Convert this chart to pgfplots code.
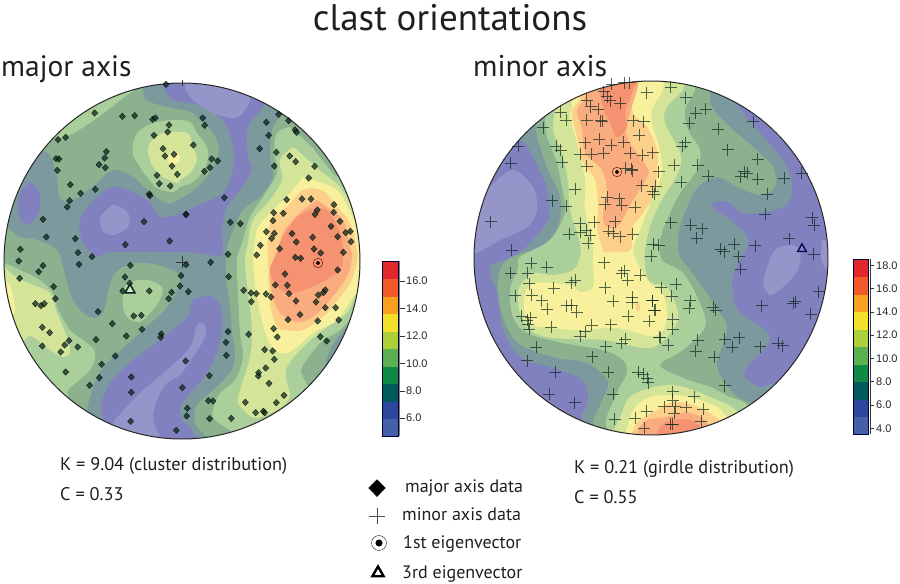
\documentclass[border=0pt]{standalone}
\usepackage{fontspec}
\setmainfont{PT Sans}
\newfontfamily\cbf{Liberation Sans}
\usepackage{pgfplots}
\pgfplotsset{compat=1.18}
\definecolor{Lz}{HTML}{9595CA}
\definecolor{La}{HTML}{8181BF}
\definecolor{Lb}{HTML}{7C9A9E}
\definecolor{Lc}{HTML}{8BB18F}
\definecolor{Ld}{HTML}{ABCF9B}
\definecolor{Le}{HTML}{D4E499}
\definecolor{Lf}{HTML}{F8F09C}
\definecolor{Lg}{HTML}{FCCF8A}
\definecolor{Lh}{HTML}{F9AC80}
\definecolor{Li}{HTML}{F59272}
\definecolor{Ca}{HTML}{E1262C}
\definecolor{Cb}{HTML}{F15A29}
\definecolor{Cc}{HTML}{F8A01F}
\definecolor{Cd}{HTML}{F2E02A}
\definecolor{Ce}{HTML}{ADCF3A}
\definecolor{Cf}{HTML}{5BB04F}
\definecolor{Cg}{HTML}{0E8A45}
\definecolor{Ch}{HTML}{005A5B}
\definecolor{Ci}{HTML}{2E479E}
\definecolor{Cj}{HTML}{4560A8}
\definecolor{Mk}{HTML}{06241A}
\newcommand\reg[2]{\addplot[fill=#1,draw=none,smooth,tension=0.55,forget plot] coordinates {#2} -- cycle;}
\newcommand\cbox[5]{\addplot[fill=#1,draw=none,forget plot] coordinates {(#2,#3)(#4,#3)(#4,#5)(#2,#5)} -- cycle;}
\pgfplotsset{
 maj/.style={only marks,forget plot,mark=diamond*,mark size=3.3pt,mark options={xscale=1.25,fill=Mk,draw=none,opacity=.72}},
 mnr/.style={only marks,forget plot,mark=+,mark size=6pt,mark options={draw=Mk,line width=.8pt,opacity=.68}},
}
\begin{document}
\begin{tikzpicture}
\begin{axis}[at={(0,0)},anchor=south west,scale only axis,width=900bp,height=584bp,
 xmin=0,xmax=900,ymin=0,ymax=584,y dir=reverse,axis lines=none,clip=false]
% ---------- left net
\fill[Lb] (axis cs:182,261) circle [radius=178bp];
\reg{Lc}{(143,75)(143,88)(146,100)(167,107)(190,112)(200,120)(213,133)(219,150)(213,167)(200,185)(180,199)(167,203)(150,192)(133,177)(113,170)(97,183)(73,200)(60,198)(57,177)(50,155)(40,150)(30,140)(70,90)}
\reg{Lc}{(0,225)(7,227)(20,237)(37,240)(57,250)(63,267)(70,293)(80,310)(93,318)(103,313)(108,293)(115,273)(133,263)(157,265)(177,273)(180,283)(167,307)(143,330)(132,340)(110,360)(97,377)(87,407)(85,415)(40,400)(0,320)}
\reg{Lc}{(272,95)(280,113)(272,130)(270,157)(273,177)(260,197)(243,210)(233,230)(227,250)(226,277)(230,307)(232,333)(235,357)(230,373)(210,393)(197,405)(195,423)(207,437)(215,445)(300,420)(370,300)(370,200)(300,100)}
\reg{Lb}{(323,372)(330,350)(340,335)(355,320)(365,340)(335,385)}
\reg{La}{(163,78)(268,90)(263,107)(248,127)(248,157)(252,170)(240,190)(227,207)(222,230)(222,255)(205,254)(180,252)(113,252)(97,256)(83,243)(80,220)(97,197)(117,187)(147,200)(160,217)(180,213)(203,203)(223,193)(233,170)(233,147)(223,120)(203,107)(190,103)(173,100)(163,87)}
\reg{La}{(30,182)(40,193)(38,213)(27,225)(18,213)(20,193)(30,182)}
\reg{La}{(100,407)(110,383)(133,360)(160,340)(187,317)(193,300)(213,297)(222,313)(220,343)(207,373)(193,390)(187,397)(180,407)(182,420)(190,428)(197,445)(150,450)(105,425)}
\reg{Lz}{(100,217)(113,205)(128,213)(128,227)(113,235)(102,230)(100,217)}
\reg{Lz}{(190,78)(185,87)(193,100)(213,113)(233,118)(243,113)(250,100)(250,85)}
\reg{Lz}{(113,422)(140,393)(167,370)(190,347)(197,325)(205,325)(205,337)(193,357)(180,375)(167,383)(157,400)(153,420)(160,437)(160,450)(115,440)}
\reg{Ld}{(50,140)(70,135)(97,118)(123,98)(135,88)(130,70)(40,120)}
\reg{Ld}{(133,143)(138,132)(153,123)(173,120)(190,122)(197,133)(208,150)(205,168)(193,182)(180,187)(173,192)(157,188)(147,177)(140,167)(133,155)(133,143)}
\reg{Le}{(148,153)(150,143)(163,133)(187,133)(193,147)(197,160)(190,173)(180,180)(177,183)(163,177)(153,167)(148,153)}
\reg{Lf}{(168,155)(177,153)(180,160)(173,165)(169,162)(168,155)}
\reg{Ld}{(123,290)(130,282)(147,280)(162,287)(160,300)(150,313)(140,322)(128,318)(123,307)(123,290)}
\reg{Ld}{(0,262)(5,263)(20,270)(40,280)(53,293)(57,307)(70,330)(83,340)(95,352)(90,370)(68,390)(68,400)(40,400)(0,320)}
\reg{Le}{(0,268)(5,268)(17,278)(33,285)(50,293)(57,313)(67,337)(70,353)(63,357)(50,350)(40,342)(30,336)(22,342)(10,340)(0,320)}
\reg{Lf}{(5,283)(10,285)(15,307)(13,315)(0,315)(0,285)}
\reg{Ld}{(290,127)(277,133)(274,153)(277,173)(263,197)(250,217)(243,240)(237,260)(238,293)(240,333)(243,357)(235,380)(220,393)(213,410)(215,420)(232,432)(240,445)(300,400)(308,388)(303,377)(302,367)(320,343)(340,330)(355,313)(370,290)(365,250)(350,170)(337,177)(313,148)}
\reg{Le}{(297,150)(292,148)(280,160)(282,180)(270,200)(253,220)(248,243)(245,260)(248,293)(252,327)(250,357)(238,398)(242,408)(255,418)(277,410)(290,397)(287,383)(287,367)(303,347)(323,330)(347,313)(358,290)(372,280)(372,230)(358,230)(353,210)(340,187)(323,173)}
\reg{Lf}{(303,177)(290,193)(273,210)(258,227)(255,243)(253,263)(258,303)(268,340)(280,353)(293,350)(313,333)(337,320)(357,293)(375,290)(375,225)(357,223)(340,193)(323,183)}
\reg{Lg}{(310,188)(300,192)(287,207)(272,218)(268,237)(268,260)(270,303)(277,327)(287,330)(303,330)(327,313)(350,283)(357,260)(357,250)(350,223)(337,207)(325,192)(310,188)}
\reg{Lh}{(317,200)(303,210)(293,220)(283,233)(278,250)(270,270)(273,297)(280,313)(297,322)(313,317)(330,300)(347,277)(352,257)(350,247)(343,220)(327,207)(317,200)}
\reg{Li}{(310,210)(297,217)(287,230)(280,243)(275,257)(270,270)(277,287)(293,293)(320,283)(340,270)(343,253)(340,233)(327,210)(310,210)}
\draw[white,line width=30bp] (axis cs:182,261) circle [radius=193bp];
\draw[black!85,line width=1pt] (axis cs:182,261) circle [radius=178bp];
\addplot[black!80,line width=.6pt,forget plot] coordinates {(182,80)(182,86)};
\addplot[black!80,line width=.6pt,forget plot] coordinates {(176,262)(188,262)};
\addplot[black!80,line width=.6pt,forget plot] coordinates {(182,256)(182,268)};
% ---------- right net
\fill[La] (axis cs:651,258) circle [radius=177bp];
\reg{Lz}{(477,210)(490,187)(513,170)(533,187)(537,210)(527,227)(500,240)(473,253)(465,230)}
\reg{Lz}{(822,240)(822,262)(834,275)(834,240)}
\reg{Lb}{(737,95)(737,105)(760,133)(783,160)(792,183)(788,203)(767,212)(743,213)(728,202)(715,202)(713,208)(730,220)(748,240)(735,270)(732,283)(738,310)(770,337)(747,367)(745,377)(760,387)(777,383)(790,395)(700,440)(600,440)(582,418)(587,405)(588,393)(580,378)(550,367)(520,357)(503,330)(497,293)(490,267)(513,257)(530,243)(548,220)(548,193)(538,167)(525,143)(518,140)(525,125)(650,70)}
\reg{Lz}{(763,285)(767,267)(775,250)(790,245)(800,250)(798,270)(783,287)(770,295)(763,285)}
\reg{Lc}{(535,115)(535,122)(538,140)(548,170)(560,197)(558,227)(540,247)(507,260)(498,283)(503,317)(518,343)(553,357)(587,363)(605,377)(608,387)(600,405)(596,428)(650,445)(750,415)(753,405)(737,397)(723,380)(717,363)(727,330)(720,313)(703,288)(690,270)(680,257)(678,240)(682,220)(697,188)(717,177)(737,187)(760,195)(775,187)(773,167)(753,147)(730,127)(712,107)(710,92)(705,75)}
\reg{Ld}{(545,105)(545,115)(547,137)(557,163)(563,193)(565,213)(550,240)(520,257)(518,268)(510,290)(513,317)(527,333)(563,343)(603,350)(623,360)(627,373)(617,393)(607,428)(650,445)(745,415)(745,403)(730,397)(710,387)(683,378)(660,365)(683,350)(705,327)(700,303)(683,273)(662,260)(660,240)(667,220)(680,193)(697,170)(700,150)(688,130)(685,110)(695,90)(695,75)}
\reg{Le}{(555,100)(555,110)(553,130)(563,157)(568,183)(570,210)(580,243)(580,257)(573,270)(553,275)(533,273)(522,283)(518,293)(520,313)(530,330)(553,338)(603,340)(650,348)(673,330)(678,313)(667,287)(650,282)(645,265)(645,250)(650,227)(660,203)(678,173)(680,153)(665,123)(667,107)(683,90)(683,75)}
\reg{Le}{(610,440)(617,423)(620,417)(630,397)(650,388)(673,385)(693,390)(717,400)(733,408)(740,425)(650,450)}
\reg{Lf}{(572,75)(572,107)(570,117)(578,147)(585,180)(585,210)(592,240)(593,263)(593,287)(580,292)(570,285)(537,283)(525,293)(527,322)(550,328)(580,330)(617,328)(650,336)(663,330)(667,313)(662,292)(650,283)(640,268)(633,250)(640,230)(653,197)(662,173)(660,150)(652,123)(653,107)(663,90)(663,75)}
\reg{Lf}{(622,445)(627,428)(633,410)(647,398)(670,395)(693,398)(717,407)(725,415)(730,430)(650,450)}
\reg{Lg}{(580,75)(580,98)(572,112)(577,137)(582,160)(595,180)(598,207)(597,227)(602,247)(604,252)(610,252)(630,250)(633,227)(643,213)(655,193)(657,170)(657,150)(647,127)(633,113)(633,93)(640,80)(640,70)}
\reg{Lg}{(636,303)(639,303)(640,310)(636,310)(636,303)}
\reg{Lg}{(630,445)(633,430)(640,420)(657,410)(673,402)(693,405)(713,415)(718,425)(680,450)}
\reg{Lh}{(585,75)(585,98)(577,110)(582,130)(585,153)(602,170)(607,193)(603,213)(605,225)(617,227)(633,200)(647,177)(647,167)(627,137)(630,113)(637,90)(640,70)}
\reg{Lh}{(636,445)(638,430)(647,420)(660,418)(667,417)(683,413)(697,415)(707,423)(710,435)(680,450)}
\reg{Li}{(600,95)(605,112)(610,123)(617,137)(627,127)(625,113)(633,90)(637,75)(600,70)}
\reg{Li}{(655,445)(660,427)(673,420)(690,420)(700,427)(703,440)(680,450)}
\draw[white,line width=30bp] (axis cs:651,258) circle [radius=192bp];
\draw[black!85,line width=1pt] (axis cs:651,258) circle [radius=177bp];
% ---------- major axis data (zoom-crop coordinates)
\addplot[maj] table[header=false,x expr=\thisrowno{0}/3,y expr=70+\thisrowno{1}/3] {
498 43
284 129
367 139
404 137
458 148
466 144
507 165
503 186
462 196
197 202
174 209
319 245
489 236
522 253
495 258
314 264
168 266
177 267
297 284
316 293
516 288
172 301
471 316
532 313
478 341
511 348
211 344
286 358
242 370
448 372
450 377
209 392
202 411
129 448
558 433
432 455
139 501
226 506
376 524
509 513
61 538
234 548
276 560
};
\addplot[maj] table[header=false,x expr=180+\thisrowno{0}/3,y expr=70+\thisrowno{1}/3] {
296 133
68 144
326 152
74 166
259 157
345 180
350 187
266 196
40 225
239 236
289 247
329 258
347 275
95 267
113 273
404 289
90 293
73 304
283 288
386 324
133 383
320 389
366 387
393 387
462 404
412 420
405 433
461 427
281 428
310 430
18 433
279 452
151 457
181 461
480 454
453 469
259 485
511 484
497 488
283 490
275 505
336 491
473 500
398 502
349 516
513 515
241 526
402 537
299 536
422 549
490 547
144 553
230 555
346 562
362 565
};
\addplot[maj] table[header=false,x expr=\thisrowno{0}/3,y expr=250+\thisrowno{1}/3] {
56 33
129 47
116 65
237 43
391 46
375 81
558 44
543 77
59 85
161 110
540 108
389 100
515 127
448 123
368 123
565 125
166 146
506 146
106 161
123 167
133 161
294 185
401 198
424 196
337 221
127 232
149 248
426 238
379 258
484 252
482 262
207 272
288 269
194 285
233 291
127 288
182 306
346 318
305 343
197 366
298 383
394 381
269 406
394 427
392 514
529 541
};
\addplot[maj] table[header=false,x expr=180+\thisrowno{0}/3,y expr=250+\thisrowno{1}/3] {
92 37
146 80
315 72
473 60
286 105
322 106
327 131
191 121
213 129
229 131
258 132
273 141
348 153
214 155
408 156
415 135
430 128
436 120
436 173
467 173
360 194
324 209
413 213
476 210
281 236
144 245
206 253
138 277
292 261
421 260
440 273
254 299
278 303
283 328
139 316
257 354
236 368
235 378
88 377
17 333
7 413
267 400
312 436
196 457
289 458
85 452
99 453
22 475
20 498
227 488
250 484
254 488
89 506
154 505
};
% ---------- minor axis data (zoom-crop coordinates)
\addplot[mnr] table[header=false,x expr=470+\thisrowno{0}/3,y expr=70+\thisrowno{1}/3] {
462 38
425 42
477 38
530 68
401 65
412 80
350 90
420 92
362 110
450 100
384 117
272 126
350 150
288 150
392 152
397 154
490 152
521 155
220 173
508 195
145 228
388 207
346 218
424 225
461 217
258 228
272 240
330 252
365 252
401 250
481 250
518 255
548 248
122 280
276 277
350 288
467 294
485 297
487 302
566 305
515 347
315 358
557 348
548 365
552 372
246 392
288 409
411 382
447 386
405 402
455 405
495 412
62 455
330 460
372 456
436 455
298 492
330 487
348 480
360 495
416 484
430 490
450 500
488 492
355 520
550 522
566 525
125 541
543 558
};
\addplot[mnr] table[header=false,x expr=650+\thisrowno{0}/3,y expr=70+\thisrowno{1}/3] {
62 52
107 83
167 118
137 130
118 160
205 177
310 155
105 218
96 228
233 239
323 267
72 285
143 285
282 305
292 310
174 318
272 320
323 327
402 325
455 310
93 336
352 372
345 433
62 458
122 466
157 476
140 505
487 443
492 466
417 506
252 522
316 527
212 538
222 545
491 552
266 560
};
\addplot[mnr] table[header=false,x expr=470+\thisrowno{0}/3,y expr=250+\thisrowno{1}/3] {
402 38
183 40
230 52
122 70
173 70
455 70
462 62
511 76
473 90
315 90
303 98
177 101
405 113
251 115
136 137
185 135
215 152
430 153
486 142
486 158
547 152
232 177
290 167
305 165
320 187
553 180
155 198
172 210
182 203
175 222
178 238
475 198
243 231
422 224
365 226
537 213
345 245
331 258
567 262
198 291
407 290
455 280
466 268
366 320
171 332
256 367
415 367
505 367
520 372
532 385
535 398
237 433
430 433
314 458
530 483
495 505
434 507
523 535
};
\addplot[mnr] table[header=false,x expr=650+\thisrowno{0}/3,y expr=250+\thisrowno{1}/3] {
272 57
78 102
34 113
65 138
506 125
120 152
117 175
8 152
15 180
335 167
435 155
430 160
190 172
197 180
482 193
68 207
68 238
224 268
268 263
143 270
30 263
55 285
246 292
330 290
385 280
398 287
137 303
192 322
224 407
68 425
132 440
68 450
42 470
75 470
108 472
160 478
72 490
153 513
62 522
68 522
};
% ---------- eigenvectors
\addplot[only marks,forget plot,mark=o,mark size=4.8pt,mark options={draw=black!70!red,line width=.4pt}] coordinates {(318,263)(617,172)};
\addplot[only marks,forget plot,mark=*,mark size=1.9pt,mark options={fill=black!85!red,draw=none}] coordinates {(318,263)(617,172)};
\addplot[only marks,forget plot,mark=triangle*,mark size=5.8pt,mark options={draw=Mk,fill=Ld!50!white,line width=1.5pt}] coordinates {(130,290)};
\addplot[only marks,forget plot,mark=triangle,mark size=5.2pt,mark options={draw=black!70!blue,line width=1.3pt}] coordinates {(802,249)};
% ---------- colour bars
\cbox{Ca}{382}{261}{398}{279}
\cbox{Cb}{382}{279}{398}{297}
\cbox{Cc}{382}{297}{398}{314}
\cbox{Cd}{382}{314}{398}{332}
\cbox{Ce}{382}{332}{398}{349}
\cbox{Cf}{382}{349}{398}{367}
\cbox{Cg}{382}{367}{398}{384}
\cbox{Ch}{382}{384}{398}{402}
\cbox{Ci}{382}{402}{398}{419}
\cbox{Cj}{382}{419}{398}{436}
\addplot[black!80!blue,line width=.9pt,forget plot] coordinates {(382,261)(398,261)(398,436)(382,436)(382,261)};
\addplot[gray,line width=1.6pt,forget plot] coordinates {(399.5,261)(399.5,436)};
\cbox{Ca}{853}{259}{868}{277}
\cbox{Cb}{853}{277}{868}{295}
\cbox{Cc}{853}{295}{868}{312}
\cbox{Cd}{853}{312}{868}{330}
\cbox{Ce}{853}{330}{868}{347}
\cbox{Cf}{853}{347}{868}{365}
\cbox{Cg}{853}{365}{868}{382}
\cbox{Ch}{853}{382}{868}{400}
\cbox{Ci}{853}{400}{868}{417}
\cbox{Cj}{853}{417}{868}{434}
\addplot[black!80!blue,line width=.9pt,forget plot] coordinates {(853,259)(868,259)(868,434)(853,434)(853,259)};
\addplot[black!80,line width=1pt,forget plot] coordinates {(870,259)(870,434)};
% tick marks and labels of the bars
\foreach \y/\l in {281/16.0,308.5/14.0,336/12.0,363.5/10.0,391/8.0,418/6.0}{
 \edef\tmp{\noexpand\addplot[black!80,line width=.6pt,forget plot] coordinates {(400,\y)(405,\y)};
 \noexpand\node[anchor=west,inner sep=0pt,font=\noexpand\cbf\noexpand\fontsize{11bp}{13bp}\noexpand\selectfont,text=black!85] at (axis cs:406,\y) {\l};}\tmp}
\foreach \y/\l in {265.7/18.0,288.7/16.0,312/14.0,335/12.0,358.5/10.0,381.7/8.0,405/6.0,428.3/4.0}{
 \edef\tmp{\noexpand\addplot[black!80,line width=.6pt,forget plot] coordinates {(870,\y)(874,\y)};
 \noexpand\node[anchor=west,inner sep=0pt,font=\noexpand\cbf\noexpand\fontsize{11bp}{13bp}\noexpand\selectfont,text=black!85] at (axis cs:876,\y) {\l};}\tmp}
% ---------- legend
\addplot[only marks,forget plot,mark=diamond*,mark size=8.5pt,mark options={xscale=1.33,fill=black,draw=none}] coordinates {(377,488)};
\addplot[only marks,forget plot,mark=+,mark size=8.5pt,mark options={draw=black!70,line width=.5pt}] coordinates {(377,516)};
\addplot[only marks,forget plot,mark=o,mark size=7.5pt,mark options={draw=black!80,line width=.5pt}] coordinates {(379,543)};
\addplot[only marks,forget plot,mark=*,mark size=3.3pt,mark options={fill=black,draw=none}] coordinates {(379,543)};
\addplot[only marks,forget plot,mark=triangle,mark size=6.5pt,mark options={draw=black,line width=2.4pt}] coordinates {(378,573)};
% ---------- text
\tikzset{tx/.style={anchor=base west,inner sep=0pt,text=black!88},
 bd/.style={tx,font=\fontsize{18.3bp}{20bp}\selectfont}}
\node[anchor=base,inner sep=0pt,text=black!88,font=\fontsize{37bp}{39bp}\selectfont] at (axis cs:450,31) {clast orientations};
\node[tx,font=\fontsize{29.5bp}{31bp}\selectfont] at (axis cs:1,77) {major axis};
\node[tx,font=\fontsize{30bp}{31bp}\selectfont] at (axis cs:473,77) {minor axis};
\node[bd] at (axis cs:60,470) {K = 9.04 (cluster distribution)};
\node[bd] at (axis cs:60,500) {C = 0.33};
\node[bd] at (axis cs:574,473) {K = 0.21 (girdle distribution)};
\node[bd] at (axis cs:574,503) {C = 0.55};
\node[bd,font=\fontsize{18bp}{20bp}\selectfont] at (axis cs:405,492) {major axis data};
\node[bd,font=\fontsize{18bp}{20bp}\selectfont] at (axis cs:402,520) {minor axis data};
\node[bd,font=\fontsize{18bp}{20bp}\selectfont] at (axis cs:403,548) {1st eigenvector};
\node[bd,font=\fontsize{18bp}{20bp}\selectfont] at (axis cs:402,578) {3rd eigenvector};
\end{axis}
\pgfresetboundingbox
\path[use as bounding box] (0,0) rectangle (900bp,584bp);
\end{tikzpicture}
\end{document}
